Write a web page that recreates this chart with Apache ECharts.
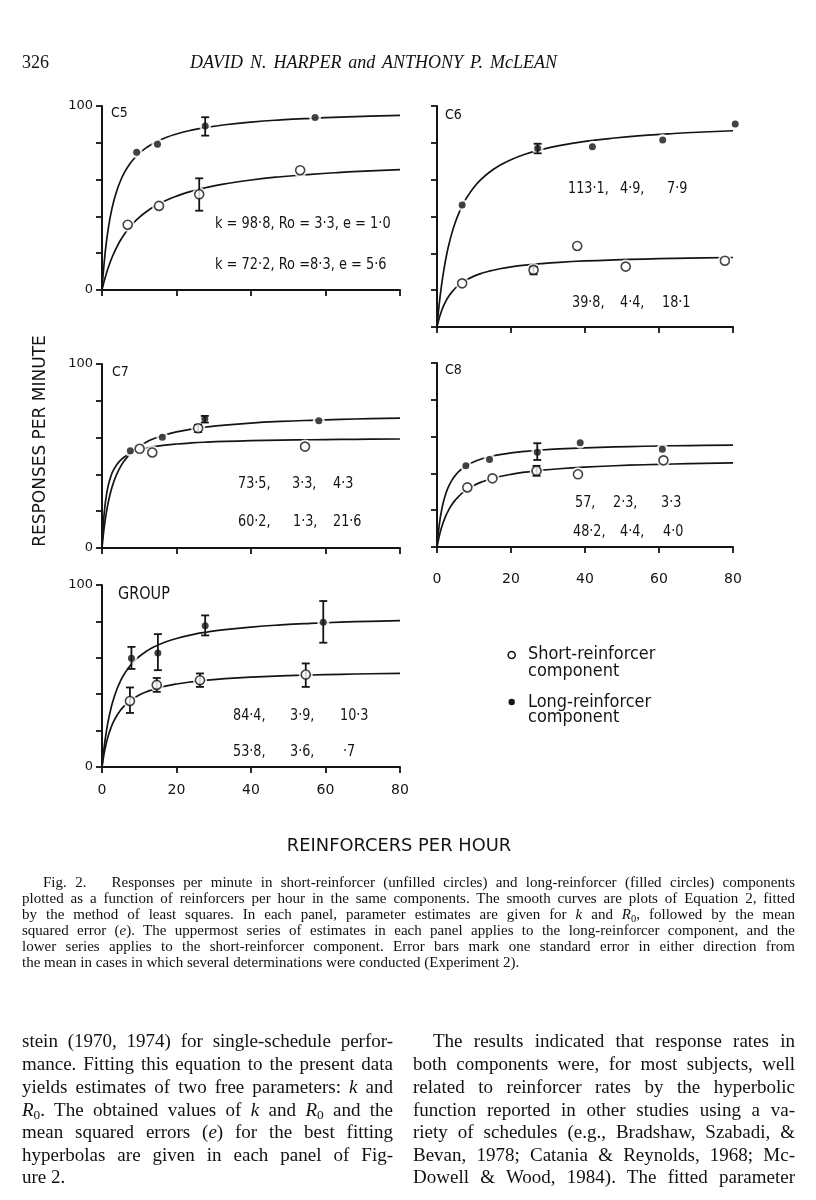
<!DOCTYPE html>
<html>
<head>
<meta charset="utf-8">
<script src="https://cdn.jsdelivr.net/npm/echarts@6.0.0/dist/echarts.min.js"></script>
<style>
  html, body { margin: 0; padding: 0; background: #fff; }
  body { width: 816px; height: 1200px; position: relative; overflow: hidden; }
  #chart { position: absolute; left: 0; top: 0; width: 816px; height: 1200px; }
  .ln { position: absolute; white-space: nowrap; font-family: "Liberation Serif", "DejaVu Serif", serif; color: #111; }
  .cap { font-size: 15px; line-height: 16px; }
  .body { font-size: 19px; line-height: 22px; }
  .hdr { font-size: 18px; line-height: 20px; }
  sub { font-size: 70%; vertical-align: -0.25em; line-height: 0; }
</style>
</head>
<body>
<div id="chart"></div>

<div class="ln hdr" style="left:22px;top:52px">326</div>
<div class="ln hdr" style="left:190px;top:52px;font-style:italic" data-w="367">DAVID N. HARPER and ANTHONY P. McLEAN</div>

<div class="ln cap" style="left:43px;top:874px" data-w="752">Fig. 2.&nbsp;&nbsp; Responses per minute in short-reinforcer (unfilled circles) and long-reinforcer (filled circles) components</div>
<div class="ln cap" style="left:22px;top:890px" data-w="773">plotted as a function of reinforcers per hour in the same components. The smooth curves are plots of Equation 2, fitted</div>
<div class="ln cap" style="left:22px;top:906px" data-w="773">by the method of least squares. In each panel, parameter estimates are given for <i>k</i> and <i>R</i><sub>0</sub>, followed by the mean</div>
<div class="ln cap" style="left:22px;top:922px" data-w="773">squared error (<i>e</i>). The uppermost series of estimates in each panel applies to the long-reinforcer component, and the</div>
<div class="ln cap" style="left:22px;top:938px" data-w="773">lower series applies to the short-reinforcer component. Error bars mark one standard error in either direction from</div>
<div class="ln cap" style="left:22px;top:954px">the mean in cases in which several determinations were conducted (Experiment 2).</div>

<div class="ln body" style="left:22px;top:1030px" data-w="371">stein (1970, 1974) for single-schedule perfor-</div>
<div class="ln body" style="left:22px;top:1053px" data-w="371">mance. Fitting this equation to the present data</div>
<div class="ln body" style="left:22px;top:1076px" data-w="371">yields estimates of two free parameters: <i>k</i> and</div>
<div class="ln body" style="left:22px;top:1099px" data-w="371"><i>R</i><sub>0</sub>. The obtained values of <i>k</i> and <i>R</i><sub>0</sub> and the</div>
<div class="ln body" style="left:22px;top:1121px" data-w="371">mean squared errors (<i>e</i>) for the best fitting</div>
<div class="ln body" style="left:22px;top:1144px" data-w="371">hyperbolas are given in each panel of Fig-</div>
<div class="ln body" style="left:22px;top:1166px">ure 2.</div>

<div class="ln body" style="left:433px;top:1030px" data-w="362">The results indicated that response rates in</div>
<div class="ln body" style="left:413px;top:1053px" data-w="382">both components were, for most subjects, well</div>
<div class="ln body" style="left:413px;top:1076px" data-w="382">related to reinforcer rates by the hyperbolic</div>
<div class="ln body" style="left:413px;top:1099px" data-w="382">function reported in other studies using a va-</div>
<div class="ln body" style="left:413px;top:1121px" data-w="382">riety of schedules (e.g., Bradshaw, Szabadi, &amp;</div>
<div class="ln body" style="left:413px;top:1144px" data-w="382">Bevan, 1978; Catania &amp; Reynolds, 1968; Mc-</div>
<div class="ln body" style="left:413px;top:1166px" data-w="382">Dowell &amp; Wood, 1984). The fitted parameter</div>

<script>
// ---------- data ----------
const xTicks = [0, 20, 40, 60, 80];
const panelNames = ['C5', 'C6', 'C7', 'C8', 'GROUP'];
const yMaxes = [100, 120, 100, 100, 100];

// Fitted parameters printed in each panel: [k, R0, e]
const c5FitLong = [98.8, 3.3, 1.0];
const c5FitShort = [72.2, 8.3, 5.6];
const c6FitLong = [113.1, 4.9, 7.9];
const c6FitShort = [39.8, 4.4, 18.1];
const c7FitLong = [73.5, 3.3, 4.3];
const c7FitShort = [60.2, 1.3, 21.6];
const c8FitLong = [57, 2.3, 3.3];
const c8FitShort = [48.2, 4.4, 4.0];
const groupFitLong = [84.4, 3.9, 10.3];
const groupFitShort = [53.8, 3.6, 0.7];

// Parameter labels as printed
const c5Text = ['k = 98·8, Ro = 3·3, e = 1·0', 'k = 72·2, Ro =8·3, e = 5·6'];
const c6Text = [['113·1,', '4·9,', '7·9'], ['39·8,', '4·4,', '18·1']];
const c7Text = [['73·5,', '3·3,', '4·3'], ['60·2,', '1·3,', '21·6']];
const c8Text = [['57,', '2·3,', '3·3'], ['48·2,', '4·4,', '4·0']];
const groupText = [['84·4,', '3·9,', '10·3'], ['53·8,', '3·6,', '·7']];

// Data points [reinforcers per hour, responses per minute]
const c5Long = [[9.3, 74.8], [14.9, 79.2], [27.7, 89.1], [57.2, 93.7]];
const c5Short = [[6.9, 35.5], [15.3, 45.7], [26.1, 52.0], [53.2, 65.1]];
const c6Long = [[6.8, 66.2], [27.2, 97.0], [42.0, 97.9], [61.0, 101.5], [80.6, 110.2]];
const c6Short = [[6.8, 23.7], [26.1, 31.0], [37.9, 44.0], [51.0, 32.8], [77.8, 36.0]];
const c7Long = [[7.6, 52.8], [16.2, 60.2], [27.6, 70.2], [58.2, 69.1]];
const c7Short = [[10.1, 53.9], [13.5, 51.9], [25.8, 65.1], [54.5, 55.1]];
const c8Long = [[7.8, 44.2], [14.2, 47.6], [27.1, 51.5], [38.7, 56.7], [60.9, 53.1]];
const c8Short = [[8.2, 32.4], [15.0, 37.3], [26.9, 41.4], [38.1, 39.5], [61.2, 47.1]];
const groupLong = [[7.9, 59.7], [15.0, 62.7], [27.7, 77.6], [59.4, 79.5]];
const groupShort = [[7.5, 36.3], [14.7, 45.1], [26.3, 47.7], [54.7, 50.8]];

// Error bars [x, low, high]
const c5Err = [[27.7, 83.9, 93.9], [26.1, 43.1, 60.7]];
const c6Err = [[27.2, 94.3, 99.5], [26.1, 28.6, 32.7]];
const c7Err = [[27.6, 68.2, 71.8], [25.8, 63.0, 67.0]];
const c8Err = [[27.1, 47.3, 56.4], [26.9, 38.7, 44.1]];
const groupErr = [[7.9, 53.9, 66.0], [15.0, 53.2, 73.0], [27.7, 72.3, 83.3], [59.4, 68.3, 91.2],
                  [7.5, 29.7, 43.7], [14.7, 41.3, 48.9], [26.3, 44.0, 51.4], [54.7, 44.0, 56.9]];

// x positions at which the fitted curve (Equation 2: R = k r / (r + R0)) is drawn
const curveX = [0, 0.05, 0.1, 0.2, 0.35, 0.5, 0.75, 1, 1.4, 1.8, 2.4, 3, 4, 5, 6, 7, 8, 10, 12, 14, 17, 20, 24, 28, 33, 40, 48, 56, 64, 72, 80];

// ---------- build chart ----------
const INK = '#141414';
const grids = [
  { left: 102, top: 106, width: 298, height: 184 },
  { left: 437, top: 106, width: 296, height: 221 },
  { left: 102, top: 364, width: 298, height: 184 },
  { left: 437, top: 363, width: 296, height: 184 },
  { left: 102, top: 585, width: 298, height: 182 }
];
const fitsLong = [c5FitLong, c6FitLong, c7FitLong, c8FitLong, groupFitLong];
const fitsShort = [c5FitShort, c6FitShort, c7FitShort, c8FitShort, groupFitShort];
const ptsLong = [c5Long, c6Long, c7Long, c8Long, groupLong];
const ptsShort = [c5Short, c6Short, c7Short, c8Short, groupShort];
const errs = [c5Err, c6Err, c7Err, c8Err, groupErr];

function hyper(fit) { return curveX.map(x => [x, fit[0] * x / (x + fit[1])]); }

const xAxes = grids.map((g, i) => ({
  type: 'value', gridIndex: i, min: 0, max: 80, interval: 20,
  axisLine: { onZero: false, lineStyle: { color: INK, width: 2 } },
  axisTick: { show: true, length: 6, inside: false, lineStyle: { color: INK, width: 1.8 } },
  splitLine: { show: false },
  axisLabel: {
    show: i === 3 || i === 4, margin: i === 3 ? 25 : 16,
    color: INK, fontFamily: 'DejaVu Sans', fontSize: 14,
    formatter: v => xTicks.includes(v) ? String(v) : ''
  }
}));
const yAxes = grids.map((g, i) => ({
  type: 'value', gridIndex: i, min: 0, max: yMaxes[i], interval: 20,
  axisLine: { onZero: false, lineStyle: { color: INK, width: 2 } },
  axisTick: { show: true, length: 6, inside: false, lineStyle: { color: INK, width: 1.8 } },
  splitLine: { show: false },
  axisLabel: {
    show: i === 0 || i === 2 || i === 4, margin: 9,
    color: INK, fontFamily: 'DejaVu Sans', fontSize: 13,
    formatter: v => (v === 0 || v === 100) ? String(v) : ''
  }
}));

const series = [];
grids.forEach((g, i) => {
  [fitsLong[i], fitsShort[i]].forEach(fit => {
    series.push({
      type: 'line', xAxisIndex: i, yAxisIndex: i, data: hyper(fit), showSymbol: false,
      symbol: 'none', smooth: true, lineStyle: { color: INK, width: 1.7 }, z: 2, silent: true
    });
  });
  // white halos that break the curve around each point
  series.push({ type: 'scatter', xAxisIndex: i, yAxisIndex: i, data: ptsLong[i], symbol: 'circle',
    symbolSize: 12, itemStyle: { color: '#fff' }, z: 3, clip: false, silent: true });
  series.push({ type: 'scatter', xAxisIndex: i, yAxisIndex: i, data: ptsShort[i], symbol: 'circle',
    symbolSize: 14, itemStyle: { color: '#fff' }, z: 3, clip: false, silent: true });
  // error bars
  series.push({
    type: 'custom', xAxisIndex: i, yAxisIndex: i, data: errs[i], z: 4, clip: false,
    renderItem: (params, api) => {
      const x = api.value(0), lo = api.value(1), hi = api.value(2);
      const p1 = api.coord([x, lo]), p2 = api.coord([x, hi]);
      const st = { stroke: INK, lineWidth: 1.8 };
      return { type: 'group', children: [
        { type: 'line', shape: { x1: p1[0], y1: p1[1], x2: p2[0], y2: p2[1] }, style: st },
        { type: 'line', shape: { x1: p1[0] - 4, y1: p1[1], x2: p1[0] + 4, y2: p1[1] }, style: st },
        { type: 'line', shape: { x1: p2[0] - 4, y1: p2[1], x2: p2[0] + 4, y2: p2[1] }, style: st }
      ]};
    }
  });
  series.push({ type: 'scatter', name: 'Long-reinforcer component', xAxisIndex: i, yAxisIndex: i,
    data: ptsLong[i], symbol: 'circle', symbolSize: 7, itemStyle: { color: INK }, z: 5, clip: false });
  series.push({ type: 'scatter', name: 'Short-reinforcer component', xAxisIndex: i, yAxisIndex: i,
    data: ptsShort[i], symbol: 'circle', symbolSize: 9,
    itemStyle: { color: '#fff', borderColor: INK, borderWidth: 1.6 }, z: 5, clip: false });
});

function T(text, x, y, size, sx, extra) {
  return Object.assign({
    type: 'text', x: x, y: y, scaleX: sx, z: 100,
    style: { text: text, fill: INK, fontSize: size, fontFamily: 'DejaVu Sans',
             textAlign: 'left', textVerticalAlign: 'middle' }
  }, extra || {});
}
const PS = 16, PX = 0.8;
const graphics = [
  T(panelNames[0], 111, 113, 14, 0.9), T(panelNames[1], 445, 115, 14, 0.9),
  T(panelNames[2], 112, 372, 14, 0.9), T(panelNames[3], 445, 370, 14, 0.9),
  T(panelNames[4], 118, 595, 17, 0.85),
  T(c5Text[0], 215, 224, PS, 0.81), T(c5Text[1], 215, 265, PS, 0.81)
];
function triple(rows, xs, ys) {
  rows.forEach((row, r) => row.forEach((s, c) => graphics.push(T(s, xs[r][c], ys[r], PS, PX))));
}
triple(c6Text, [[568, 620, 667], [572, 620, 662]], [189, 303]);
triple(c7Text, [[238, 292, 333], [238, 293, 333]], [484, 522]);
triple(c8Text, [[575, 613, 661], [573, 620, 663]], [503, 532]);
triple(groupText, [[233, 290, 340], [233, 290, 343]], [716, 752]);

// legend
graphics.push({ type: 'circle', shape: { cx: 511.7, cy: 655, r: 3.5 }, style: { fill: '#fff', stroke: INK, lineWidth: 1.6 }, z: 100 });
graphics.push({ type: 'circle', shape: { cx: 511.7, cy: 702, r: 3.2 }, style: { fill: INK }, z: 100 });
graphics.push(T('Short-reinforcer', 528, 655, 17, 0.95));
graphics.push(T('component', 528, 672, 17, 0.95));
graphics.push(T('Long-reinforcer', 528, 703, 17, 0.95));
graphics.push(T('component', 528, 718, 17, 0.95));

// axis titles
const yTitle = T('RESPONSES PER MINUTE', 41, 441, 17, 1.0, { rotation: Math.PI / 2 });
yTitle.style.textAlign = 'center';
graphics.push(yTitle);
const xTitle = T('REINFORCERS PER HOUR', 399, 847, 17, 1.05);
xTitle.style.textAlign = 'center';
graphics.push(xTitle);

const chart = echarts.init(document.getElementById('chart'), null, { renderer: 'canvas' });
chart.setOption({
  animation: false,
  backgroundColor: '#fff',
  grid: grids,
  xAxis: xAxes,
  yAxis: yAxes,
  series: series,
  graphic: { elements: graphics }
});

// justify the text lines to their target widths
document.querySelectorAll('.ln[data-w]').forEach(el => {
  const target = parseFloat(el.dataset.w);
  const w = el.getBoundingClientRect().width;
  const spaces = (el.textContent.match(/[ \u00a0]/g) || []).length;
  if (spaces > 0) el.style.wordSpacing = ((target - w) / spaces) + 'px';
});
</script>
</body>
</html>
